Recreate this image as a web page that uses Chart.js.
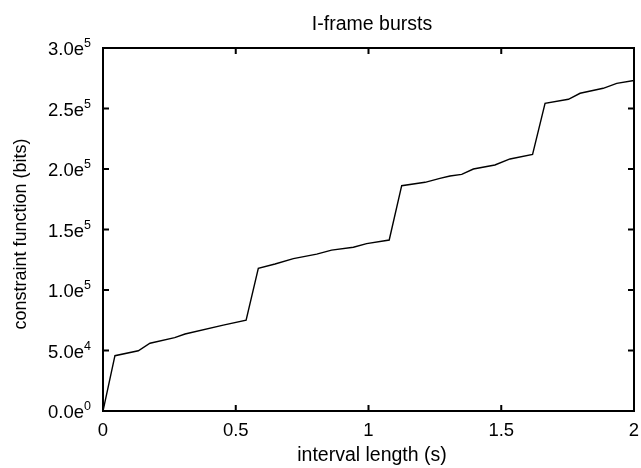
<!DOCTYPE html>
<html>
<head>
<meta charset="utf-8">
<script src="https://cdn.jsdelivr.net/npm/chart.js@4"></script>
<style>
  html, body { margin: 0; padding: 0; background: #fff; }
  #wrap { width: 641px; height: 468px; }
</style>
</head>
<body>
<div id="wrap"><canvas id="canvas-bursts"></canvas></div>
<script>
// interval length (s) and constraint function (bits)
var intervalLength = [0, 0.045, 0.133, 0.177, 0.27, 0.309, 0.453, 0.539, 0.585, 0.648,
                      0.717, 0.805, 0.861, 0.943, 0.993, 1.078, 1.125, 1.213, 1.269, 1.307,
                      1.351, 1.395, 1.476, 1.533, 1.618, 1.665, 1.753, 1.797, 1.884, 1.935, 2.0];
var constraintBits = [0, 45700, 49800, 56000, 60600, 63600, 71000, 75000, 118000, 121500,
                      125900, 129700, 133000, 135300, 138300, 141300, 186200, 189000, 192300, 194200,
                      195600, 200000, 203300, 208300, 212000, 254300, 257600, 262600, 266700, 270800, 273200];
var xTicks = [0, 0.5, 1, 1.5, 2];
var xTickLabels = ["0", "0.5", "1", "1.5", "2"];
var yTicks = [0, 50000, 100000, 150000, 200000, 250000, 300000];
var yTickMant = ["0.0e", "5.0e", "1.0e", "1.5e", "2.0e", "2.5e", "3.0e"];
var yTickExp = ["0", "4", "5", "5", "5", "5", "5"];

var points = intervalLength.map(function(x, i) { return { x: x, y: constraintBits[i] }; });

var FONT = '"Liberation Sans", Arial, Helvetica, sans-serif';

var framePlugin = {
    id: 'frame',
    afterDraw: function(chart) {
        var ctx = chart.ctx, a = chart.chartArea;
        var xs = chart.scales.x, ys = chart.scales.y;
        ctx.save();
        ctx.strokeStyle = '#000';
        ctx.lineWidth = 2;
        ctx.strokeRect(a.left, a.top, a.right - a.left, a.bottom - a.top);

        // inward ticks, mirrored
        ctx.beginPath();
        xTicks.forEach(function(v) {
            var px = xs.getPixelForValue(v);
            ctx.moveTo(px, a.bottom); ctx.lineTo(px, a.bottom - 6);
            ctx.moveTo(px, a.top); ctx.lineTo(px, a.top + 6);
        });
        yTicks.forEach(function(v) {
            var py = ys.getPixelForValue(v);
            ctx.moveTo(a.left, py); ctx.lineTo(a.left + 6, py);
            ctx.moveTo(a.right, py); ctx.lineTo(a.right - 6, py);
        });
        ctx.stroke();

        ctx.fillStyle = '#000';
        // x tick labels
        ctx.font = '18.5px ' + FONT;
        ctx.textAlign = 'center';
        ctx.textBaseline = 'middle';
        xTicks.forEach(function(v, i) {
            ctx.fillText(xTickLabels[i], xs.getPixelForValue(v), a.bottom + 20);
        });

        // y tick labels with superscript exponent
        yTicks.forEach(function(v, i) {
            var py = ys.getPixelForValue(v);
            ctx.font = '12.5px ' + FONT;
            var ew = ctx.measureText(yTickExp[i]).width;
            var right = a.left - 12;
            ctx.textAlign = 'left';
            ctx.fillText(yTickExp[i], right - ew, py - 4);
            ctx.font = '18.5px ' + FONT;
            ctx.textAlign = 'right';
            ctx.fillText(yTickMant[i], right - ew, py + 2);
        });

        // titles
        ctx.font = '19.5px ' + FONT;
        ctx.textAlign = 'center';
        ctx.fillText('I-frame bursts', 372, 25);
        ctx.fillText('interval length (s)', 372, 456);
        ctx.font = '18px ' + FONT;
        ctx.translate(21, 234);
        ctx.rotate(-Math.PI / 2);
        ctx.fillText('constraint function (bits)', 0, 0);
        ctx.restore();
    }
};

window.onload = function() {
    new Chart(document.getElementById('canvas-bursts'), {
        type: 'line',
        data: {
            datasets: [{
                data: points,
                borderColor: '#000',
                borderWidth: 1.4,
                pointRadius: 0,
                tension: 0,
                fill: false
            }]
        },
        options: {
            responsive: true,
            maintainAspectRatio: false,
            animation: false,
            layout: { padding: { left: 103, right: 7, top: 48, bottom: 57 } },
            plugins: { legend: { display: false }, tooltip: { enabled: false }, title: { display: false } },
            scales: {
                x: { type: 'linear', min: 0, max: 2, display: false },
                y: { type: 'linear', min: 0, max: 300000, display: false }
            }
        },
        plugins: [framePlugin]
    });
};
</script>
</body>
</html>
